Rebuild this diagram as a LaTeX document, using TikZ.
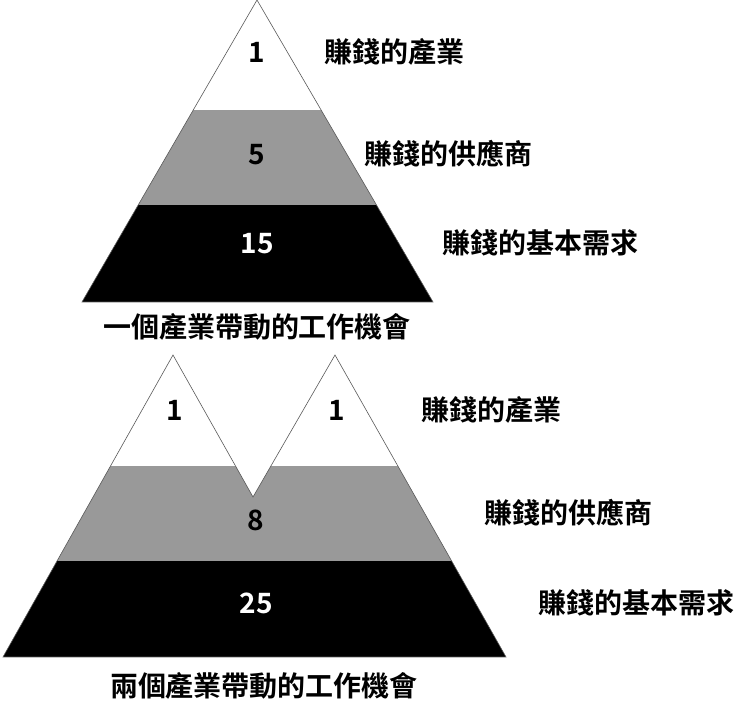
\documentclass[tikz,border=0pt]{standalone}
\usepackage{fontspec}
\newfontfamily\cjk{Noto Sans CJK TC Bold}
\begin{document}
\begin{tikzpicture}[x=1pt,y=-1pt,
  lbl/.style={font=\cjk\fontsize{28}{30}\selectfont, inner sep=0pt},
  num/.style={font=\cjk\fontsize{28}{30}\selectfont, inner sep=0pt},
  wnum/.style={num, text=white}]
\useasboundingbox (0,0) rectangle (740,725);
\definecolor{midgray}{HTML}{999999}
% top pyramid
\begin{scope}
\clip (257,0) -- (433,302) -- (82,302) -- cycle;
\fill[white] (0,0) rectangle (740,110);
\fill[midgray] (0,110) rectangle (740,205);
\fill[black] (0,205) rectangle (740,302);
\end{scope}
\draw[gray!70!black, line width=0.6pt] (257,0) -- (433,302) -- (82,302) -- cycle;
\node[num] (t1) at (257,52) {1};
\node[num] (t5) at (257,155) {5};
\node[wnum] (t15) at (257,244) {15};
\node[lbl] (ta) at (394,52) {賺錢的產業};
\node[lbl] (tb) at (448,154) {賺錢的供應商};
\node[lbl] (tc) at (540,243) {賺錢的基本需求};
\node[lbl] (tcap) at (257,327) {一個產業帶動的工作機會};
% bottom
\begin{scope}
\clip (173,355) -- (253,497) -- (335,355) -- (506,657) -- (3,657) -- cycle;
\fill[white] (0,340) rectangle (740,466);
\fill[midgray] (0,466) rectangle (740,561);
\fill[black] (0,561) rectangle (740,657);
\end{scope}
\draw[gray!70!black, line width=0.6pt] (173,355) -- (253,497) -- (335,355) -- (506,657) -- (3,657) -- cycle;
\node[num] (b1) at (175,410) {1};
\node[num] (b2) at (337,410) {1};
\node[num] (b8) at (256,520) {8};
\node[wnum] (b25) at (256,603) {25};
\node[lbl] (ba) at (491,410) {賺錢的產業};
\node[lbl] (bb) at (568,513) {賺錢的供應商};
\node[lbl] (bc) at (636,603) {賺錢的基本需求};
\node[lbl] (bcap) at (264,686) {兩個產業帶動的工作機會};
\end{tikzpicture}
\end{document}
